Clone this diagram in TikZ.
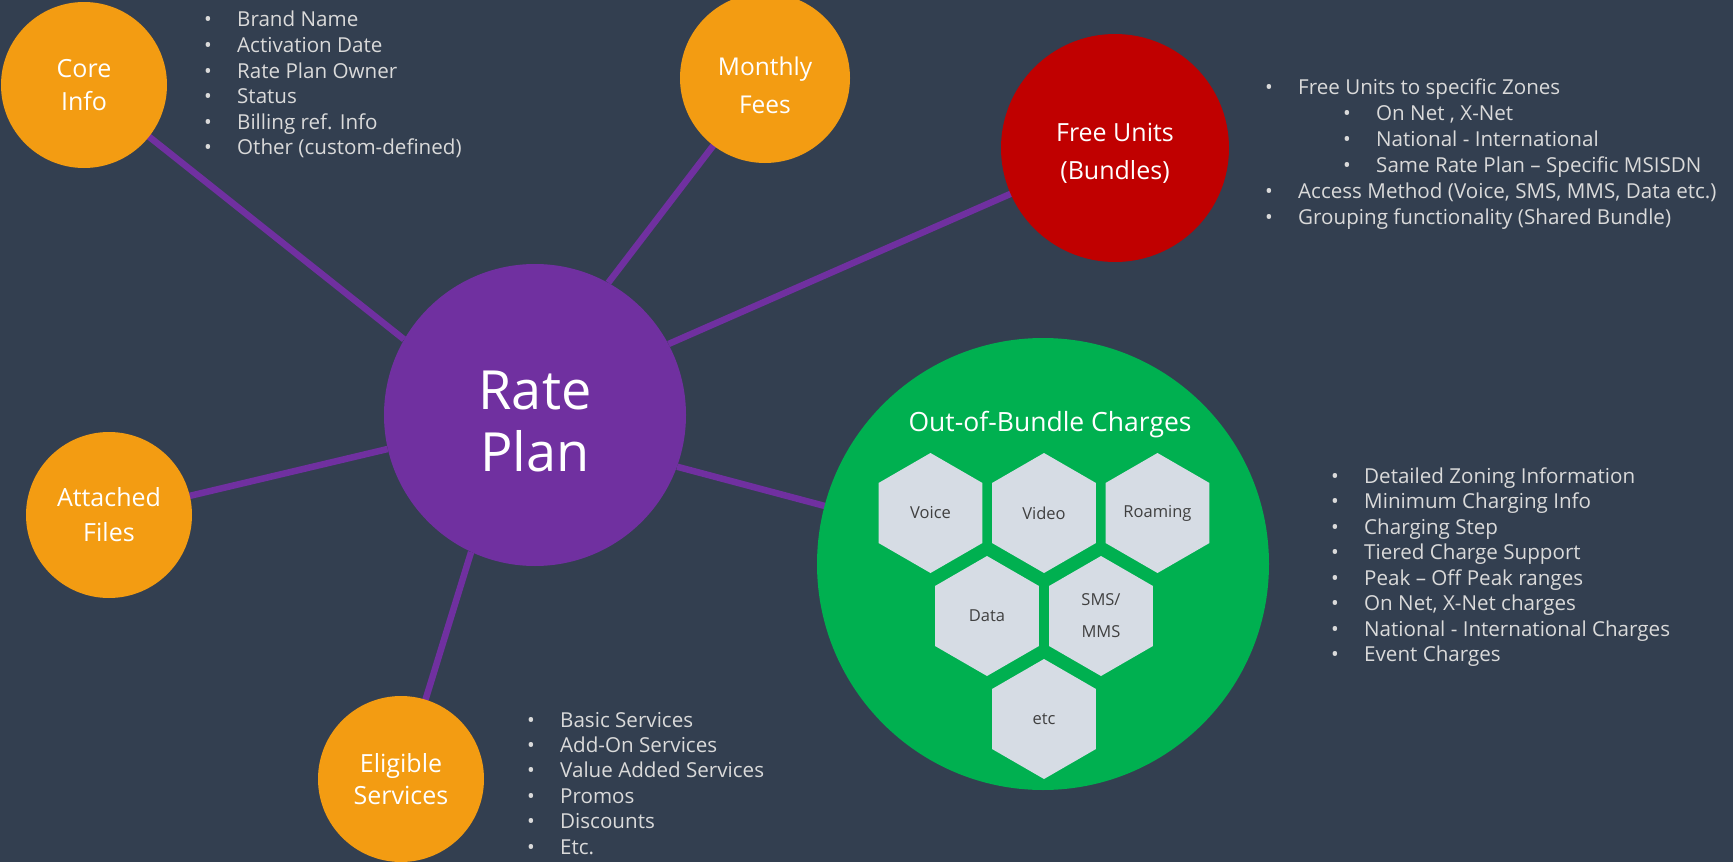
\documentclass[tikz,border=0pt]{standalone}
\usepackage{fontspec}
\setmainfont{Open Sans}
\usetikzlibrary{shapes.geometric}

\definecolor{fondo}{HTML}{333F50}
\definecolor{naranja}{HTML}{F39C12}
\definecolor{morado}{HTML}{7030A0}
\definecolor{rojo}{HTML}{C00000}
\definecolor{verde}{HTML}{00B050}
\definecolor{hexgris}{HTML}{D6DCE4}
\definecolor{hextexto}{HTML}{404040}
\definecolor{gristexto}{HTML}{DADADA}

\pgfdeclarelayer{capafondo}
\pgfdeclarelayer{capalineas}
\pgfsetlayers{capafondo,capalineas,main}

\newcommand{\bala}{\makebox[33pt][l]{•}}

\tikzset{
    burbuja/.style={circle, fill=naranja, text=white, align=center, inner sep=0pt,
        minimum size=166pt, font=\fontsize{25}{33}\selectfont},
    rotulo/.style={text=white, align=center, inner sep=0pt},
    enlace/.style={line width=6.5pt, draw=morado},
    hexa/.style={regular polygon, regular polygon sides=6, shape border rotate=30,
        minimum size=120pt, inner sep=0pt, fill=hexgris, text=hextexto, align=center,
        font=\fontsize{16.5}{32}\selectfont},
    punto/.style={anchor=base west, inner sep=0pt, text=gristexto,
        font=\fontsize{20.6}{25}\selectfont},
}

\begin{document}
\begin{tikzpicture}[x=1pt, y=-1pt]

    \useasboundingbox (0,0) rectangle (1733,862);
    \begin{pgfonlayer}{capafondo}
        \fill[fondo] (0,0) rectangle (1733,862);
    \end{pgfonlayer}

    % Circulos
    \node[circle, fill=morado, inner sep=0pt, minimum size=302pt,
        label={[rotulo, yshift=-6pt, font=\fontsize{54}{62}\selectfont]center:Rate\\Plan}] (rate) at (535,415) {};

    \node[burbuja] (core) at (84,85) {Core\\Info};
    \node[burbuja, minimum size=170pt,
        label={[rotulo, yshift=-7pt, font=\fontsize{24.5}{38}\selectfont]center:Monthly\\Fees}] (fees) at (765,78) {};
    \node[burbuja, fill=rojo, minimum size=228pt,
        label={[rotulo, yshift=-5pt, font=\fontsize{25}{38}\selectfont]center:Free Units\\(Bundles)}] (free) at (1115,148) {};
    \node[burbuja, font=\fontsize{25}{35}\selectfont] (files) at (109,515) {Attached\\Files};
    \node[burbuja, font=\fontsize{25}{32}\selectfont] (elig) at (401,779) {Eligible\\Services};
    \node[circle, fill=verde, inner sep=0pt, minimum size=452pt] (oob) at (1043,564) {};

    % Conexiones
    \begin{pgfonlayer}{capalineas}
        \draw[enlace] (rate.150) -- (core.center);
        \draw[enlace] (rate.61) -- (fees.center);
        \draw[enlace] (rate.28) -- (free.center);
        \draw[enlace] (rate.-20) -- (oob.center);
        \draw[enlace] (rate.193) -- (files.center);
        \draw[enlace] (rate.245) -- (elig.center);
    \end{pgfonlayer}

    % Cargos fuera del paquete
    \node[anchor=base, inner sep=0pt, text=white, font=\fontsize{26.5}{30}\selectfont] (oobtitle) at (1050,431) {Out-of-Bundle Charges};

    \node[hexa] (voice) at (930.5,513) {Voice};
    \node[hexa] (video) at (1044,513) {Video};
    \node[hexa] (roaming) at (1157.5,513) {Roaming};
    \node[hexa] (data) at (987,616) {Data};
    \node[hexa] (sms) at (1101,616) {SMS/\\MMS};
    \node[hexa] (etc) at (1044,719) {etc};

    % Listas
    \foreach \t [count=\i] in {Brand Name, Activation Date, Rate Plan Owner, Status,
        Billing ref. Info, Other (custom-defined)}
        \node[punto] (core\i) at (204,{1.5+25.5*\i}) {\bala\t};

    \foreach \x/\t [count=\i] in {1265/Free Units to specific Zones, 1343/{On Net , X-Net},
        1343/National - International, 1343/Same Rate Plan – Specific MSISDN,
        1265/{Access Method (Voice, SMS, MMS, Data etc.)},
        1265/Grouping functionality (Shared Bundle)}
        \node[punto] (free\i) at (\x,{68+26*\i}) {\bala\t};

    \foreach \t [count=\i] in {Detailed Zoning Information, Minimum Charging Info,
        Charging Step, Tiered Charge Support, Peak – Off Peak ranges,
        {On Net, X-Net charges}, National - International Charges, Event Charges}
        \node[punto] (oob\i) at (1331,{457.5+25.5*\i}) {\bala\t};

    \foreach \t [count=\i] in {Basic Services, Add-On Services, Value Added Services,
        Promos, Discounts, Etc.}
        \node[punto] (elig\i) at (527,{701.6+25.4*\i}) {\bala\t};

\end{tikzpicture}
\end{document}
